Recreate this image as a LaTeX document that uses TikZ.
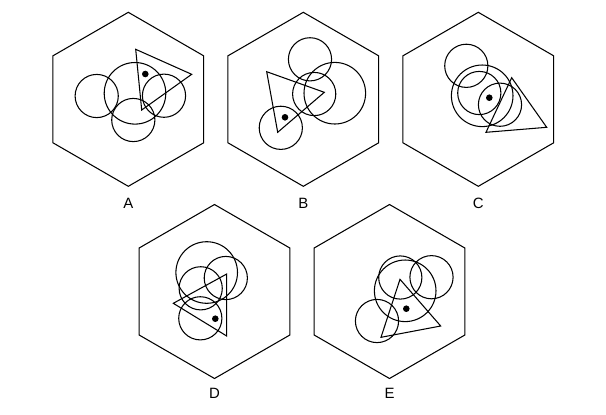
\documentclass[tikz,border=0pt]{standalone}
\usepackage{fontspec}
\setmainfont{Liberation Sans}
\usetikzlibrary{positioning}

\begin{document}
\begin{tikzpicture}[x=0.02cm,y=-0.02cm,line width=0.6pt,
    hexside/.style={line width=0.6pt},
    optlabel/.style={font=\fontsize{8.5}{10}\selectfont},
    blackdot/.style={fill=black}]
    \useasboundingbox (0,0) rectangle (606,414);

    % hexagons
    \draw[hexside,shift={(128.3,99.3)}] (90:87) -- (30:87) -- (-30:87) -- (-90:87) -- (-150:87) -- (150:87) -- cycle;
    \draw[hexside,shift={(303.3,99.3)}] (90:87) -- (30:87) -- (-30:87) -- (-90:87) -- (-150:87) -- (150:87) -- cycle;
    \draw[hexside,shift={(478.3,99.3)}] (90:87) -- (30:87) -- (-30:87) -- (-90:87) -- (-150:87) -- (150:87) -- cycle;
    \draw[hexside,shift={(214.5,291.5)}] (90:87) -- (30:87) -- (-30:87) -- (-90:87) -- (-150:87) -- (150:87) -- cycle;
    \draw[hexside,shift={(389.5,291.5)}] (90:87) -- (30:87) -- (-30:87) -- (-90:87) -- (-150:87) -- (150:87) -- cycle;

    % A
    \draw (96.7,96) circle[radius=21.6];
    \draw (135,93.3) circle[radius=30.8];
    \draw (164,95.7) circle[radius=21.6];
    \draw (133.3,120) circle[radius=21.6];
    \draw (135.7,49.3) -- (191.7,74.3) -- (141.7,110) -- cycle;
    \fill[blackdot] (145.3,74) circle[radius=3.3];
    \node[optlabel] (labA) at (128.3,203.7) {A};

    % B
    \draw (310,59.3) circle[radius=21.6];
    \draw (314.2,94) circle[radius=21.6];
    \draw (334.8,93.2) circle[radius=30.8];
    \draw (280.8,127.8) circle[radius=21.6];
    \draw (266.7,71.7) -- (324.3,92.3) -- (277.7,132.3) -- cycle;
    \fill[blackdot] (285,117.3) circle[radius=3.3];
    \node[optlabel] (labB) at (303.3,203.7) {B};

    % C
    \draw (466.3,65.8) circle[radius=21.6];
    \draw (482.2,95.8) circle[radius=30.8];
    \draw (479.3,93) circle[radius=21.6];
    \draw (500,104.7) circle[radius=21.6];
    \draw (511.7,77.7) -- (546.7,127.3) -- (486,132.3) -- cycle;
    \fill[blackdot] (489.3,97.7) circle[radius=3.3];
    \node[optlabel] (labC) at (478.3,203.7) {C};

    % D
    \draw (206.7,272.5) circle[radius=30.8];
    \draw (225.8,278) circle[radius=21.6];
    \draw (200.7,288.3) circle[radius=21.6];
    \draw (200.3,318.3) circle[radius=21.6];
    \draw (173.3,303.3) -- (226.7,274) -- (226.7,336) -- cycle;
    \fill[blackdot] (215.3,318.7) circle[radius=3.3];
    \node[optlabel] (labD) at (214.5,393.7) {D};

    % E
    \draw (400.3,277.5) circle[radius=21.6];
    \draw (405.2,290.8) circle[radius=30.8];
    \draw (431.5,277.2) circle[radius=21.6];
    \draw (377,321) circle[radius=21.6];
    \draw (400,279.3) -- (440.7,326) -- (381,337.3) -- cycle;
    \fill[blackdot] (406.3,308.7) circle[radius=3.3];
    \node[optlabel] (labE) at (389.5,393.7) {E};
\end{tikzpicture}
\end{document}
